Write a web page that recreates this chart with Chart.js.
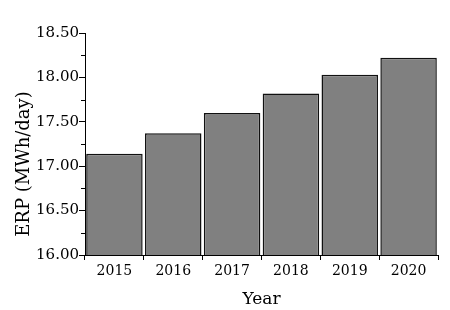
<!DOCTYPE html>
<html lang="en">
<head>
<meta charset="UTF-8">
<title>ERP chart</title>
<script src="https://cdn.jsdelivr.net/npm/chart.js"></script>
<style>
  html, body { margin: 0; padding: 0; background: #fff; }
  #wrap { width: 450px; height: 310px; }
</style>
</head>
<body>
<div id="wrap"><canvas id="chart"></canvas></div>
<script>
// data
const years = ['2015', '2016', '2017', '2018', '2019', '2020'];
const erp = [17.14, 17.37, 17.60, 17.82, 18.03, 18.22];
const yMin = 16.0, yMax = 18.5, yStep = 0.5;

const serif = '"DejaVu Serif", "Liberation Serif", serif';

// short minor ticks on the y axis, between the labelled ones
const minorTicks = {
  id: 'minorTicks',
  afterDraw(chart) {
    const y = chart.scales.y;
    const ctx = chart.ctx;
    ctx.save();
    ctx.strokeStyle = '#000';
    ctx.lineWidth = 1;
    for (let v = yMin + yStep / 2; v < yMax; v += yStep) {
      const py = Math.round(y.getPixelForValue(v)) + 0.5;
      ctx.beginPath();
      ctx.moveTo(y.right - 4, py);
      ctx.lineTo(y.right, py);
      ctx.stroke();
    }
    ctx.restore();
  }
};

new Chart(document.getElementById('chart'), {
  type: 'bar',
  data: {
    labels: years,
    datasets: [{
      data: erp,
      backgroundColor: '#808080',
      borderColor: '#111',
      borderWidth: 1.5,
      borderSkipped: 'bottom',
      categoryPercentage: 1.0,
      barPercentage: 0.96
    }]
  },
  options: {
    responsive: true,
    maintainAspectRatio: false,
    animation: false,
    layout: { padding: { left: 0, right: 12, top: 33, bottom: 0 } },
    plugins: {
      legend: { display: false },
      tooltip: { enabled: false }
    },
    scales: {
      x: {
        offset: true,
        grid: {
          offset: true,
          drawOnChartArea: false,
          drawTicks: true,
          tickLength: 5,
          color: '#000'
        },
        border: { display: true, color: '#000', width: 1 },
        ticks: {
          color: '#000',
          padding: 3,
          font: { family: serif, size: 14 }
        },
        title: {
          display: true,
          text: 'Year',
          color: '#000',
          padding: { top: 0, bottom: 0 },
          font: { family: serif, size: 17 }
        },
        afterFit(s) { s.height = 55; }
      },
      y: {
        min: yMin,
        max: yMax,
        grid: {
          drawOnChartArea: false,
          drawTicks: true,
          tickLength: 6,
          color: '#000'
        },
        border: { display: true, color: '#000', width: 1 },
        ticks: {
          stepSize: yStep,
          color: '#000',
          padding: 0,
          font: { family: serif, size: 15 },
          callback: v => Number(v).toFixed(2)
        },
        title: {
          display: true,
          // trailing spaces push the visible text a bit below the axis middle, as in the original
          text: 'ERP (MWh/day)       ',
          color: '#000',
          padding: { top: 14, bottom: 0 },
          font: { family: serif, size: 18 }
        },
        afterFit(s) { s.width = 85; }
      }
    }
  },
  plugins: [minorTicks]
});
</script>
</body>
</html>
